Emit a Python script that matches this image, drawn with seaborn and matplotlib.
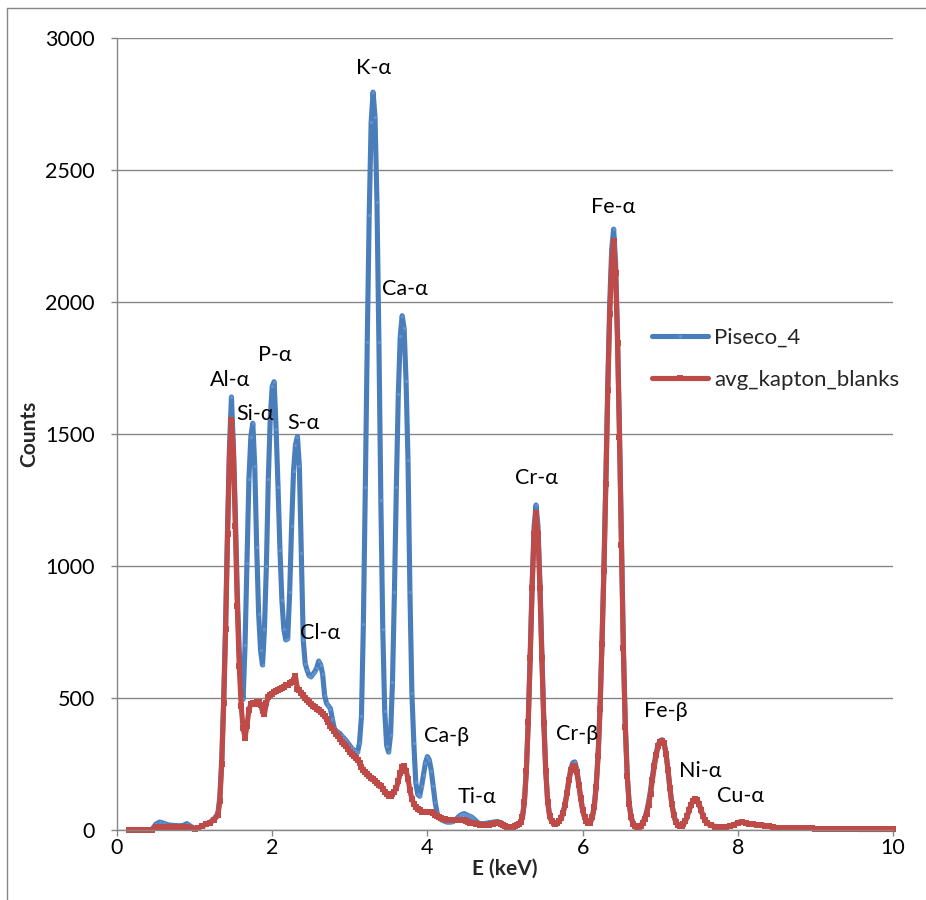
import pandas as pd
import seaborn as sns
import matplotlib.pyplot as plt
from matplotlib.lines import Line2D

# XRF spectrum, values (energy in keV, counts)
energy_low = [0.15, 0.20, 0.25, 0.30, 0.35, 0.40, 0.45, 0.50, 0.55, 0.60,
              0.65, 0.70, 0.75, 0.80, 0.85, 0.90, 0.95, 1.00, 1.05, 1.10,
              1.15, 1.20, 1.25, 1.30]
piseco_low = [0, 0, 0, 0, 0, 0, 2, 22, 30, 26,
              20, 18, 17, 16, 17, 24, 14, 6, 9, 16,
              22, 30, 42, 62]
kapton_low = [0, 0, 0, 0, 0, 0, 0, 10, 12, 12,
              12, 11, 12, 11, 12, 12, 8, 3, 8, 15,
              22, 28, 38, 55]

energy_light = [1.325, 1.350, 1.375, 1.400, 1.425, 1.450, 1.475, 1.500, 1.525, 1.550,
                1.575, 1.600, 1.625, 1.650, 1.675, 1.700, 1.725, 1.750, 1.775, 1.800,
                1.825, 1.850, 1.875, 1.900, 1.925, 1.950, 1.975, 2.000, 2.025, 2.050,
                2.075, 2.100, 2.125, 2.150, 2.175, 2.200, 2.225, 2.250, 2.275, 2.300,
                2.325, 2.350, 2.375, 2.400, 2.425, 2.450, 2.475, 2.500, 2.525, 2.550,
                2.575, 2.600, 2.625, 2.650, 2.675, 2.700, 2.725, 2.750, 2.775, 2.800,
                2.825, 2.850, 2.875, 2.900, 2.925, 2.950, 2.975, 3.000]
piseco_light = [125, 270, 500, 790, 1150, 1460, 1640, 1450, 1200, 900,
                680, 540, 495, 700, 1010, 1330, 1490, 1541, 1380, 1073,
                820, 680, 625, 760, 1000, 1330, 1560, 1680, 1698, 1520,
                1300, 1060, 870, 760, 720, 725, 900, 1150, 1360, 1460,
                1490, 1380, 1050, 720, 630, 605, 585, 580, 590, 600,
                615, 640, 625, 590, 510, 480, 470, 460, 420, 385,
                375, 370, 365, 355, 348, 340, 330, 320]
kapton_light = [110, 250, 480, 760, 1120, 1420, 1553, 1440, 1150, 850,
                620, 470, 385, 350, 395, 455, 478, 480, 478, 484,
                486, 475, 450, 440, 480, 505, 510, 515, 522, 528,
                530, 535, 537, 540, 548, 550, 555, 560, 570, 582,
                535, 530, 520, 510, 500, 492, 485, 478, 470, 465,
                460, 455, 448, 440, 430, 420, 408, 395, 385, 375,
                365, 355, 345, 335, 326, 318, 305, 295]

energy_mid = [3.025, 3.050, 3.075, 3.100, 3.125, 3.150, 3.175, 3.200, 3.225, 3.250,
              3.275, 3.300, 3.325, 3.350, 3.375, 3.400, 3.425, 3.450, 3.475, 3.500,
              3.525, 3.550, 3.575, 3.600, 3.625, 3.650, 3.675, 3.700, 3.725, 3.750,
              3.775, 3.800, 3.825, 3.850, 3.875, 3.900, 3.925, 3.950, 3.975, 4.000,
              4.025, 4.050, 4.075, 4.100, 4.125, 4.150, 4.175, 4.200, 4.225, 4.250,
              4.275, 4.300, 4.325, 4.350, 4.375, 4.400, 4.425, 4.450, 4.475, 4.500,
              4.525, 4.550, 4.575, 4.600, 4.625, 4.650, 4.675, 4.700, 4.725, 4.750,
              4.775, 4.800, 4.825, 4.850, 4.875, 4.900, 4.925, 4.950, 4.975, 5.000]
piseco_mid = [310, 303, 298, 294, 330, 430, 780, 1300, 1850, 2330,
              2680, 2795, 2700, 2380, 1850, 1250, 760, 450, 320, 295,
              360, 560, 900, 1300, 1650, 1870, 1948, 1900, 1700, 1400,
              900, 520, 330, 180, 135, 128, 165, 210, 255, 278,
              265, 225, 165, 105, 65, 45, 40, 36, 33, 30,
              30, 30, 32, 36, 42, 50, 56, 60, 62, 58,
              55, 52, 48, 42, 35, 28, 24, 24, 24, 25,
              26, 28, 28, 30, 31, 32, 30, 28, 22, 16]
kapton_mid = [288, 280, 272, 265, 255, 240, 228, 220, 212, 205,
              198, 192, 185, 178, 172, 165, 155, 145, 135, 128,
              128, 135, 145, 158, 185, 215, 238, 242, 225, 195,
              150, 118, 100, 88, 80, 74, 70, 70, 70, 70,
              69, 68, 64, 58, 52, 48, 45, 42, 40, 39,
              38, 38, 38, 37, 38, 38, 37, 36, 36, 35,
              32, 28, 26, 25, 24, 22, 20, 19, 19, 19,
              20, 20, 22, 24, 25, 25, 25, 24, 20, 14]

energy_heavy = [5.025, 5.050, 5.075, 5.100, 5.125, 5.150, 5.175, 5.200, 5.225, 5.250,
                5.275, 5.300, 5.325, 5.350, 5.375, 5.400, 5.425, 5.450, 5.475, 5.500,
                5.525, 5.550, 5.575, 5.600, 5.625, 5.650, 5.675, 5.700, 5.725, 5.750,
                5.775, 5.800, 5.825, 5.850, 5.875, 5.900, 5.925, 5.950, 5.975, 6.000,
                6.025, 6.050, 6.075, 6.100, 6.125, 6.150, 6.175, 6.200, 6.225, 6.250,
                6.275, 6.300, 6.325, 6.350, 6.375, 6.400, 6.425, 6.450, 6.475, 6.500,
                6.525, 6.550, 6.575, 6.600, 6.625, 6.650, 6.675, 6.700, 6.725, 6.750,
                6.775, 6.800, 6.825, 6.850, 6.875, 6.900, 6.925, 6.950, 6.975, 7.000,
                7.025, 7.050, 7.075, 7.100, 7.125, 7.150, 7.175, 7.200, 7.225, 7.250,
                7.275, 7.300, 7.325, 7.350, 7.375, 7.400, 7.425, 7.450, 7.475, 7.500,
                7.525, 7.550, 7.575, 7.600]
piseco_heavy = [12, 10, 10, 12, 15, 18, 22, 30, 50, 110,
                230, 420, 670, 940, 1150, 1231, 1150, 940, 670, 420,
                230, 110, 55, 35, 28, 26, 28, 35, 48, 68,
                100, 145, 195, 235, 255, 258, 230, 180, 125, 78,
                50, 35, 28, 30, 50, 90, 170, 290, 470, 720,
                1000, 1340, 1700, 2000, 2200, 2276, 2150, 1880, 1520, 1100,
                700, 400, 210, 100, 50, 25, 15, 10, 12, 18,
                28, 45, 70, 105, 150, 205, 255, 295, 325, 338,
                342, 330, 290, 230, 160, 100, 58, 32, 20, 15,
                15, 22, 35, 55, 78, 98, 112, 118, 115, 100,
                78, 55, 38, 27]
kapton_heavy = [10, 8, 8, 10, 14, 18, 22, 30, 48, 105,
                222, 408, 652, 915, 1122, 1200, 1120, 915, 650, 405,
                222, 105, 52, 33, 26, 24, 26, 33, 46, 65,
                96, 140, 188, 226, 242, 242, 218, 172, 120, 75,
                48, 33, 26, 28, 48, 86, 164, 280, 458, 705,
                980, 1312, 1665, 1955, 2150, 2230, 2110, 1845, 1490, 1080,
                688, 392, 205, 98, 48, 24, 14, 9, 11, 16,
                25, 40, 62, 95, 138, 190, 242, 285, 318, 334,
                338, 328, 288, 228, 158, 98, 56, 30, 19, 14,
                14, 21, 34, 54, 76, 96, 110, 116, 113, 98,
                76, 54, 37, 26]

energy_tail = [7.65, 7.70, 7.75, 7.80, 7.85, 7.90, 7.95, 8.00, 8.05, 8.10,
               8.15, 8.20, 8.25, 8.30, 8.35, 8.40, 8.45, 8.50, 8.55, 8.60,
               8.65, 8.70, 8.75, 8.80, 8.85, 8.90, 8.95, 9.00, 9.05, 9.10,
               9.15, 9.20, 9.25, 9.30, 9.35, 9.40, 9.45, 9.50, 9.55, 9.60,
               9.65, 9.70, 9.75, 9.80, 9.85, 9.90, 9.95, 10.00]
piseco_tail = [19, 14, 13, 12, 12, 15, 20, 28, 32, 28,
               23, 21, 20, 19, 17, 14, 10, 8, 7, 7,
               8, 8, 9, 9, 9, 8, 6, 5, 4, 4,
               4, 4, 3, 3, 3, 3, 3, 3, 2, 2,
               2, 2, 2, 2, 2, 2, 2, 2]
kapton_tail = [18, 13, 12, 12, 12, 14, 18, 26, 30, 26,
               22, 21, 20, 19, 17, 14, 10, 8, 7, 7,
               8, 8, 9, 9, 9, 8, 6, 5, 4, 4,
               4, 4, 3, 3, 3, 3, 3, 3, 2, 2,
               2, 2, 2, 2, 2, 2, 2, 2]

# peak labels and where they sit (keV, counts)
peak_names = ['Al-α', 'Si-α', 'P-α', 'S-α', 'Cl-α', 'K-α', 'Ca-α', 'Ca-β',
              'Ti-α', 'Cr-α', 'Cr-β', 'Fe-α', 'Fe-β', 'Ni-α', 'Cu-α']
peak_x = [1.46, 1.78, 2.04, 2.40, 2.62, 3.31, 3.71, 4.25,
          4.64, 5.41, 5.93, 6.39, 7.07, 7.51, 8.03]
peak_y = [1705, 1575, 1800, 1540, 745, 2885, 2050, 355,
          125, 1335, 365, 2360, 450, 222, 128]

energy = energy_low + energy_light + energy_mid + energy_heavy + energy_tail
piseco = piseco_low + piseco_light + piseco_mid + piseco_heavy + piseco_tail
kapton = kapton_low + kapton_light + kapton_mid + kapton_heavy + kapton_tail
assert len(energy) == len(piseco) == len(kapton), (len(energy), len(piseco), len(kapton))

df = pd.DataFrame({'E': energy, 'Piseco_4': piseco, 'avg_kapton_blanks': kapton})

blue = '#4A7EBB'
red = '#BE4B48'
grey = '#868686'

sns.set_theme(style='white')
plt.rcParams['font.family'] = ['Lato', 'DejaVu Sans']

fig = plt.figure(figsize=(9.26, 9), dpi=100)
ax = fig.add_axes([117 / 926, 70 / 900, 776 / 926, 792 / 900])

sns.lineplot(data=df, x='E', y='Piseco_4', ax=ax, color=blue, lw=3.7,
             marker='o', markersize=2.5, markeredgecolor='#5E92D0', markerfacecolor='#5E92D0',
             markeredgewidth=0, estimator=None, sort=False, label='Piseco_4', clip_on=False)
sns.lineplot(data=df, x='E', y='avg_kapton_blanks', ax=ax, color=red, lw=3.7,
             marker='s', markersize=5, markeredgecolor=red, markerfacecolor=red,
             markeredgewidth=0, estimator=None, sort=False, label='avg_kapton_blanks', clip_on=False)

for name, px, py in zip(peak_names, peak_x, peak_y):
    ax.text(px, py, name, ha='center', va='center', fontsize=15.5, color='black')

ax.set_xlim(0, 10)
ax.set_ylim(0, 3000)
ax.set_xticks([0, 2, 4, 6, 8, 10])
ax.set_yticks([0, 500, 1000, 1500, 2000, 2500, 3000])
ax.yaxis.grid(True, color=grey, lw=1)
ax.xaxis.grid(False)
ax.set_axisbelow(True)
for side in ['top', 'right']:
    ax.spines[side].set_visible(False)
for side in ['left', 'bottom']:
    ax.spines[side].set_color(grey)
    ax.spines[side].set_linewidth(1)
ax.tick_params(axis='both', direction='out', length=4, width=1, color=grey,
               labelsize=15.5, labelcolor='black', bottom=True, left=True)
ax.tick_params(axis='y', pad=12)
ax.tick_params(axis='x', pad=2)

ax.set_xlabel('E (keV)', fontsize=15, fontweight='bold', labelpad=0)
ax.set_ylabel('Counts', fontsize=15, fontweight='bold', labelpad=4)

ax.legend(loc='upper left', bbox_to_anchor=(652 / 926, 1 - 328 / 900),
          bbox_transform=fig.transFigure, frameon=False, fontsize=16,
          handlelength=2.5, handletextpad=0.3, labelspacing=1.0,
          borderaxespad=0, borderpad=0)

# chart border like the spreadsheet frame
fig.add_artist(Line2D([7 / 926, 7 / 926], [0, 1 - 8 / 900], transform=fig.transFigure, color=grey, lw=1))
fig.add_artist(Line2D([7 / 926, 1], [1 - 8 / 900, 1 - 8 / 900], transform=fig.transFigure, color=grey, lw=1))

fig.savefig('out.png', dpi=100)
